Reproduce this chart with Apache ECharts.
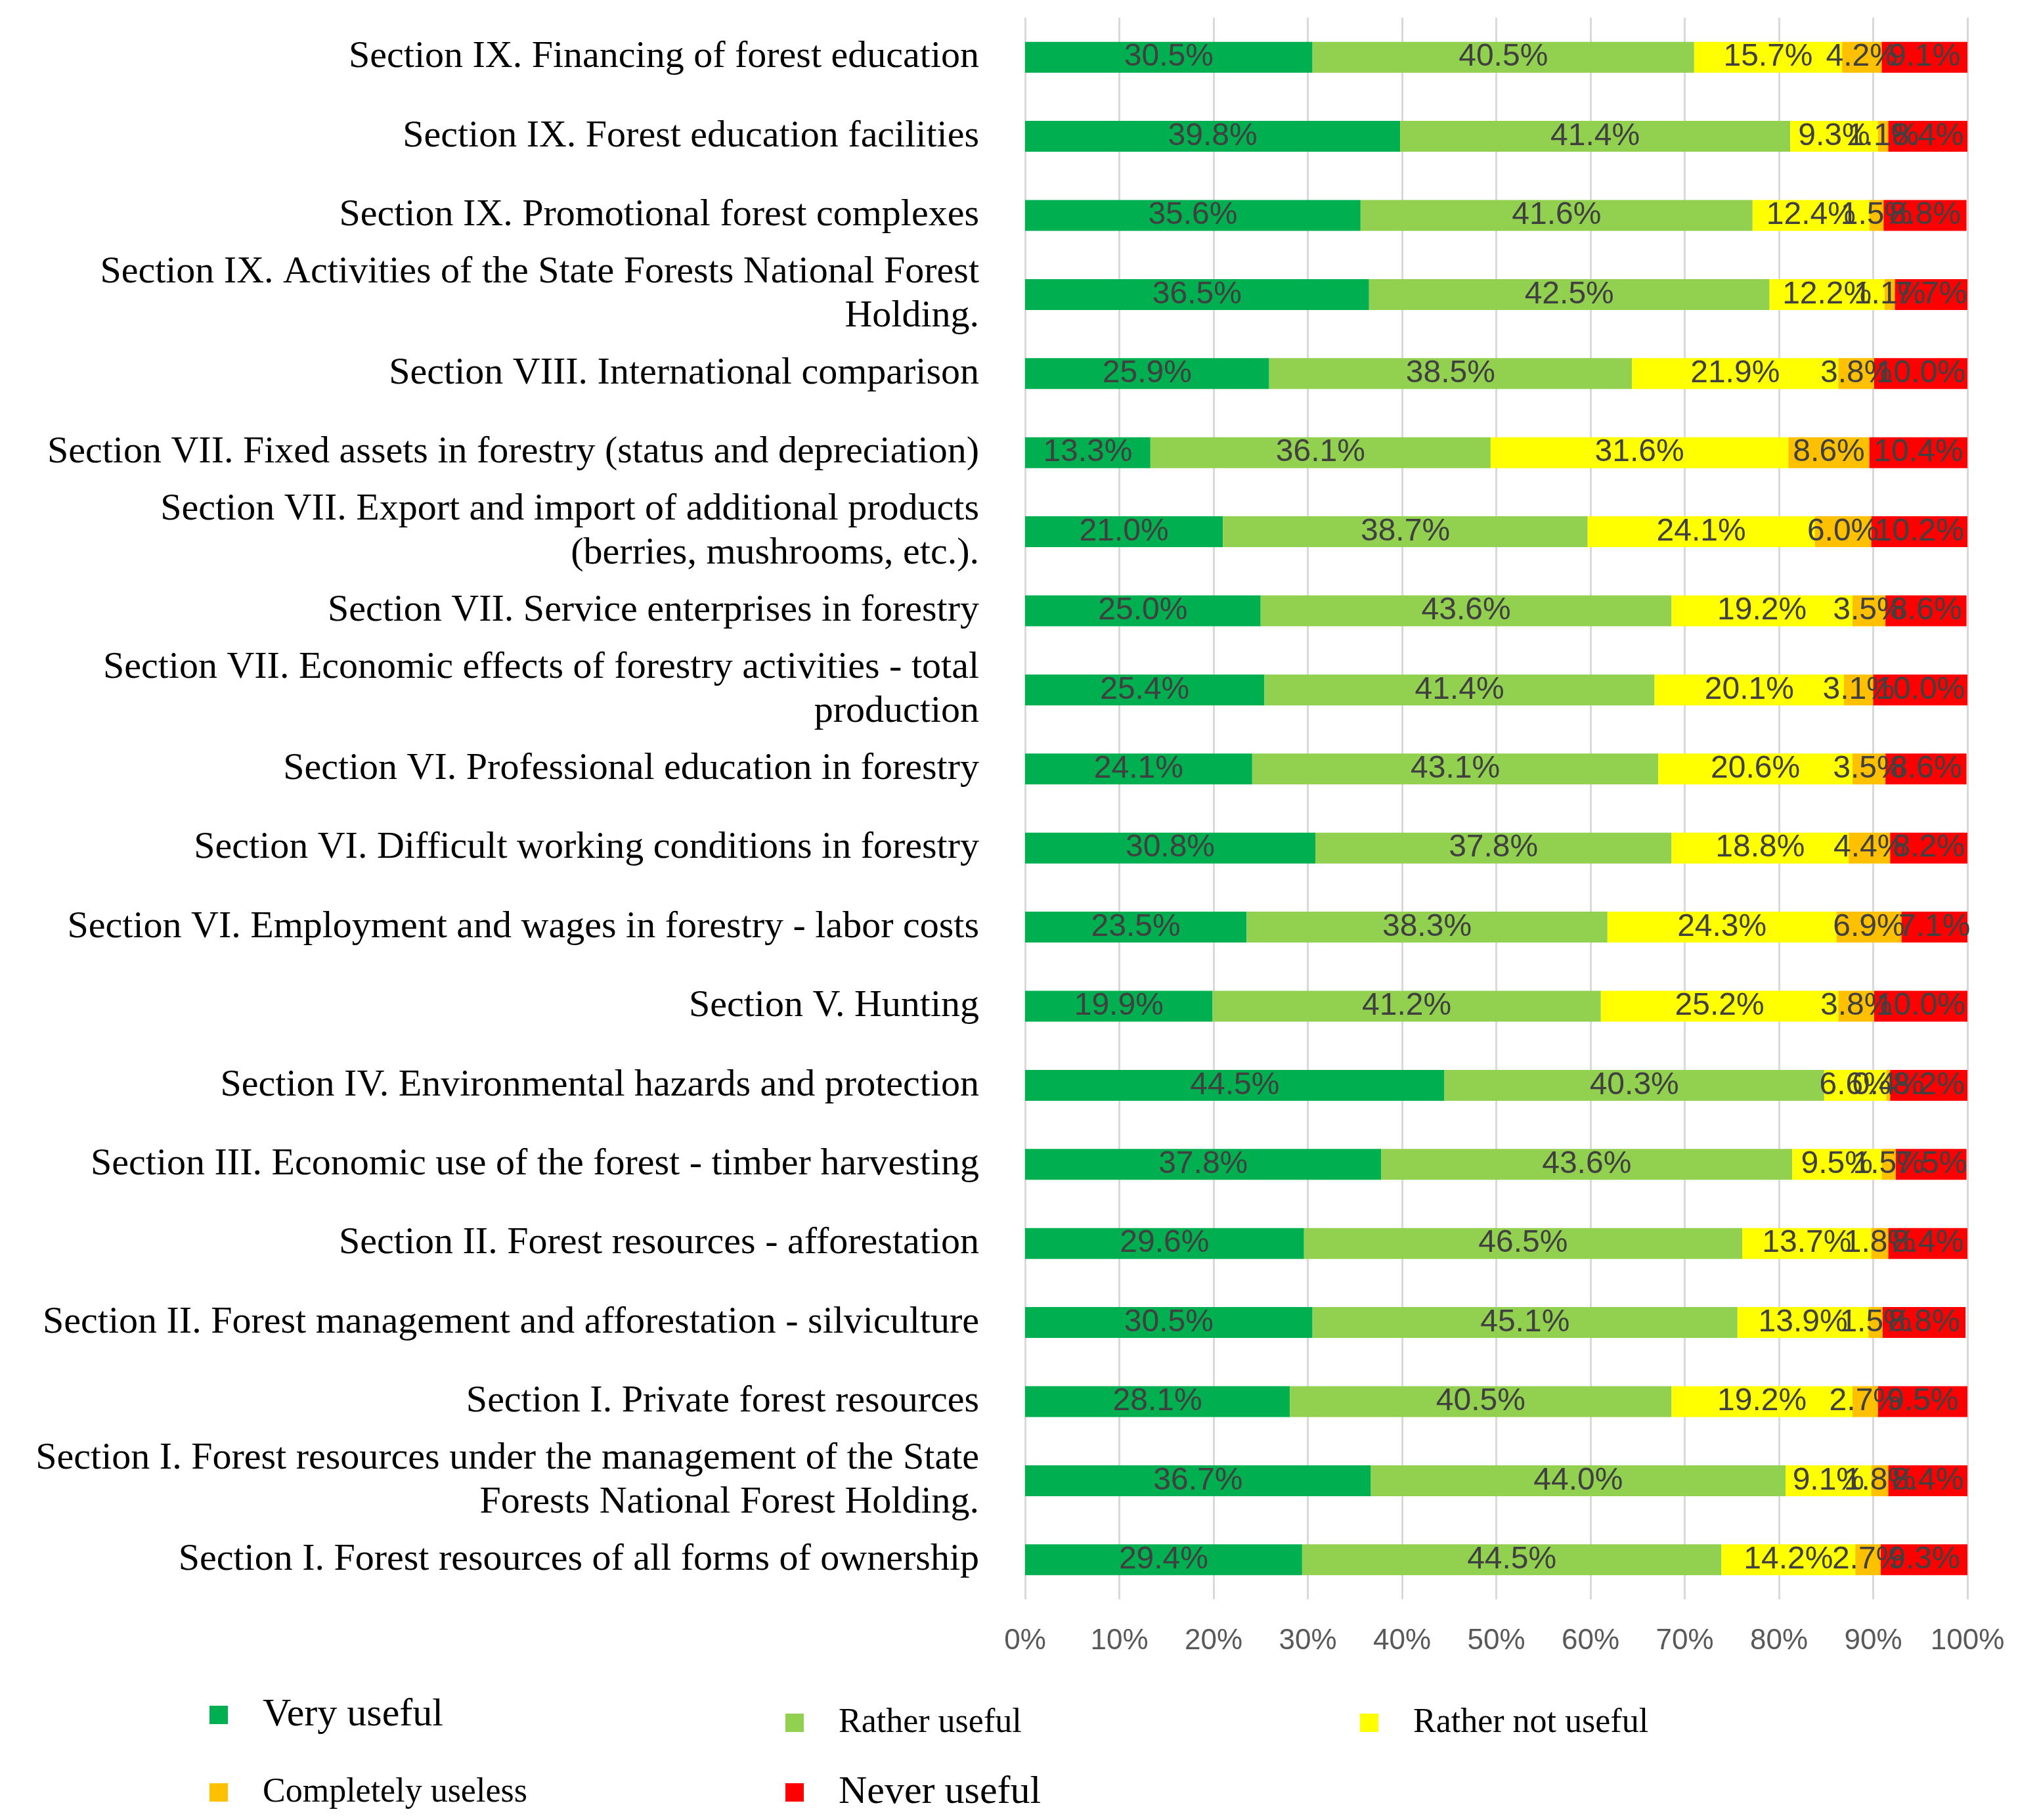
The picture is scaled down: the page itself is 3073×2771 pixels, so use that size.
<!DOCTYPE html>
<html><head><meta charset="utf-8">
<script src="https://cdn.jsdelivr.net/npm/echarts@6/dist/echarts.min.js"></script>
<style>html,body{margin:0;padding:0;background:#fff}#c{width:3073px;height:2771px}</style>
</head><body><div id="c"></div>
<script>
const categories = [
  'Section IX. Financing of forest education',
  'Section IX. Forest education facilities',
  'Section IX. Promotional forest complexes',
  'Section IX. Activities of the State Forests National Forest\nHolding.',
  'Section VIII. International comparison',
  'Section VII. Fixed assets in forestry (status and depreciation)',
  'Section VII. Export and import of additional products\n(berries, mushrooms, etc.).',
  'Section VII. Service enterprises in forestry',
  'Section VII. Economic effects of forestry activities - total\nproduction',
  'Section VI. Professional education in forestry',
  'Section VI. Difficult working conditions in forestry',
  'Section VI. Employment and wages in forestry - labor costs',
  'Section V. Hunting',
  'Section IV. Environmental hazards and protection',
  'Section III. Economic use of the forest - timber harvesting',
  'Section II. Forest resources - afforestation',
  'Section II. Forest management and afforestation - silviculture',
  'Section I. Private forest resources',
  'Section I. Forest resources under the management of the State\nForests National Forest Holding.',
  'Section I. Forest resources of all forms of ownership'
];
const veryUseful      = [30.5, 39.8, 35.6, 36.5, 25.9, 13.3, 21.0, 25.0, 25.4, 24.1, 30.8, 23.5, 19.9, 44.5, 37.8, 29.6, 30.5, 28.1, 36.7, 29.4];
const ratherUseful    = [40.5, 41.4, 41.6, 42.5, 38.5, 36.1, 38.7, 43.6, 41.4, 43.1, 37.8, 38.3, 41.2, 40.3, 43.6, 46.5, 45.1, 40.5, 44.0, 44.5];
const ratherNotUseful = [15.7,  9.3, 12.4, 12.2, 21.9, 31.6, 24.1, 19.2, 20.1, 20.6, 18.8, 24.3, 25.2,  6.6,  9.5, 13.7, 13.9, 19.2,  9.1, 14.2];
const completelyUseless = [4.2, 1.1,  1.5,  1.1,  3.8,  8.6,  6.0,  3.5,  3.1,  3.5,  4.4,  6.9,  3.8,  0.4,  1.5,  1.8,  1.5,  2.7,  1.8,  2.7];
const neverUseful     = [ 9.1,  8.4,  8.8,  7.7, 10.0, 10.4, 10.2,  8.6, 10.0,  8.6,  8.2,  7.1, 10.0,  8.2,  7.5,  8.4,  8.8,  9.5,  8.4,  9.3];
const seriesNames = ['Very useful', 'Rather useful', 'Rather not useful', 'Completely useless', 'Never useful'];
const seriesColors = ['#00B050', '#92D050', '#FFFF00', '#FFC000', '#FF0000'];
const seriesValues = [veryUseful, ratherUseful, ratherNotUseful, completelyUseless, neverUseful];

const chart = echarts.init(document.getElementById('c'));
const serifFont = 'Liberation Serif';
const labelFont = 'Liberation Sans';

function legendItem(name, left, top, size) {
  return {
    data: [name], left: left, top: top, orient: 'horizontal',
    icon: 'rect', itemWidth: 28, itemHeight: 28,
    textStyle: { fontFamily: serifFont, fontSize: size, lineHeight: 64, color: '#000', padding: [0, 0, 0, 48] }
  };
}

chart.setOption({
  animation: false,
  backgroundColor: '#fff',
  grid: { left: 1561, right: 77, top: 27, height: 2408, containLabel: false },
  legend: [
    legendItem('Very useful', 314, 2574, 60),
    legendItem('Rather useful', 1191, 2586, 52),
    legendItem('Rather not useful', 2066, 2586, 52),
    legendItem('Completely useless', 314, 2692, 52),
    legendItem('Never useful', 1191, 2692, 60)
  ],
  xAxis: {
    type: 'value', min: 0, max: 100, interval: 10,
    axisLine: { show: false }, axisTick: { show: false },
    splitLine: { show: true, lineStyle: { color: '#D9D9D9', width: 3 } },
    axisLabel: { formatter: v => v + '%', fontFamily: labelFont, fontSize: 44, color: '#595959', margin: 42 }
  },
  yAxis: {
    type: 'category', data: categories, inverse: true,
    axisLine: { show: false }, axisTick: { show: false },
    axisLabel: { fontFamily: serifFont, fontSize: 58, lineHeight: 67, color: '#000', margin: 70, align: 'right', padding: [0, 0, 8, 0] }
  },
  series: seriesNames.map((name, i) => ({
    name: name, type: 'bar', stack: 'total', barWidth: '39%',
    data: seriesValues[i],
    itemStyle: { color: seriesColors[i] },
    label: {
      show: true, position: 'inside',
      formatter: p => p.value.toFixed(1) + '%',
      fontFamily: labelFont, fontSize: 48, color: '#404040'
    }
  }))
});
</script></body></html>
